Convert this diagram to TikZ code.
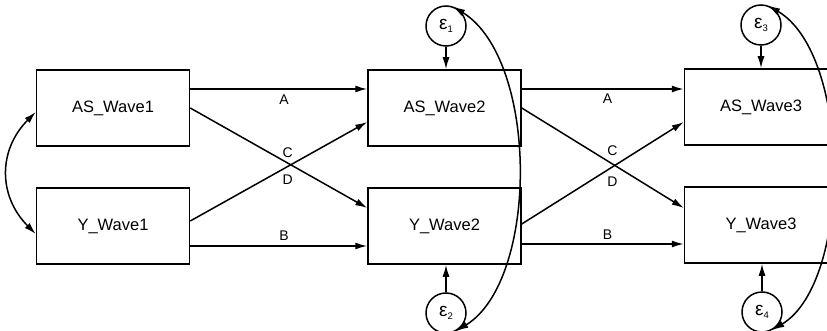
\documentclass[tikz,border=0pt]{standalone}
\usepackage{fontspec}
\setmainfont{Liberation Sans}
\usetikzlibrary{arrows.meta,calc}
\newcommand{\epsub}[1]{ε\raisebox{-3.5pt}{\fontsize{9.5}{10}\selectfont #1}}
\begin{document}
\begin{tikzpicture}[x=1pt,y=-1pt,line width=1.5pt,
  box/.style={draw, minimum width=153pt, minimum height=76pt, inner sep=0pt, font=\fontsize{16.5}{19}\selectfont},
  err/.style={draw, circle, minimum size=40pt, inner sep=0pt, font=\fontsize{19}{21}\selectfont},
  pth/.style={-{Latex[length=12pt,width=7pt]}},
  bipth/.style={{Latex[length=12pt,width=7pt]}-{Latex[length=12pt,width=7pt]}},
  lab/.style={font=\fontsize{14}{16}\selectfont, inner sep=1pt}]
\useasboundingbox (0,0) rectangle (827,331);
% boxes
\node[box] (AS1) at (113,108) {AS\_Wave1};
\node[box] (Y1)  at (113,226) {Y\_Wave1};
\node[box] (AS2) at (444.5,108) {AS\_Wave2};
\node[box] (Y2)  at (444.5,226) {Y\_Wave2};
\node[box] (AS3) at (761,107) {AS\_Wave3};
\node[box] (Y3)  at (761,225) {Y\_Wave3};
% error terms
\node[err] (e1) at (446,26) {\epsub{1}};
\node[err] (e2) at (446,313) {\epsub{2}};
\node[err] (e3) at (761,25) {\epsub{3}};
\node[err] (e4) at (762,312) {\epsub{4}};
% wave 1 -> wave 2
\draw[pth] ([yshift=19pt]AS1.east) -- node[lab, pos=0.53, below=4pt] {A} ([yshift=19pt]AS2.west);
\draw[pth] (AS1.east) -- node[lab, pos=0.55, below=10pt] {D} ([yshift=18pt]Y2.west);
\draw[pth] ([yshift=5pt]Y1.east) -- node[lab, pos=0.55, above=7pt] {C} ([yshift=-14pt]AS2.west);
\draw[pth] ([yshift=-20pt]Y1.east) -- node[lab, pos=0.53, above=4pt] {B} ([yshift=-20pt]Y2.west);
% wave 2 -> wave 3
\draw[pth] ([yshift=19pt]AS2.east) -- node[lab, pos=0.53, below=3pt] {A} ([yshift=18pt]AS3.west);
\draw[pth] (AS2.east) -- node[lab, pos=0.56, below=11pt] {D} ([yshift=17pt]Y3.west);
\draw[pth] ([yshift=2pt]Y2.east) -- node[lab, pos=0.56, above=9pt] {C} ([yshift=-15pt]AS3.west);
\draw[pth] ([yshift=-18pt]Y2.east) -- node[lab, pos=0.53, above=3pt] {B} ([yshift=-19pt]Y3.west);
% error arrows
\draw[pth] (e1) -- (e1 |- AS2.north);
\draw[pth] (e2) -- (e2 |- Y2.south);
\draw[pth] (e3) -- (e3 |- AS3.north);
\draw[pth] (e4) -- (e4 |- Y3.south);
% covariances
\draw[bipth] ([yshift=-4pt]AS1.west) .. controls (-2,150) and (-2,196) .. ([yshift=-8pt]Y1.west);
\draw[bipth] (e1.70) .. controls (539,60) and (539,280) .. (e2.-60);
\draw[bipth] (e3.70) .. controls (852,55) and (852,282) .. (e4.-60);
\end{tikzpicture}
\end{document}
